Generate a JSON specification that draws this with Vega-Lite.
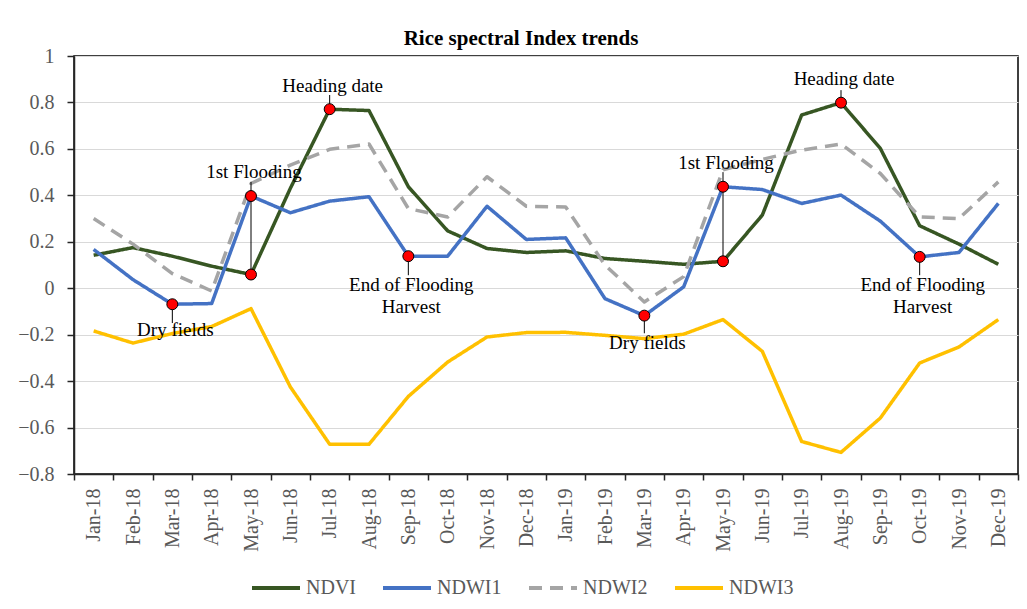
{
  "$schema": "https://vega.github.io/schema/vega-lite/v6.json",
  "width": 944,
  "height": 418,
  "autosize": {"type": "none"},
  "padding": {"left": 74, "top": 56, "right": 9, "bottom": 135},
  "background": "white",
  "title": {
    "text": "Rice spectral Index trends",
    "font": "Liberation Serif",
    "fontSize": 21,
    "fontWeight": "bold",
    "color": "black",
    "anchor": "middle",
    "frame": "group",
    "baseline": "alphabetic",
    "offset": -20,
    "dx": -25
  },
  "config": {
    "view": {"stroke": "black", "strokeWidth": 1.5},
    "font": "Liberation Serif"
  },
  "datasets": {
    "series": [
      {"month": "Jan-18", "series": "NDVI", "value": 0.142},
      {"month": "Feb-18", "series": "NDVI", "value": 0.175},
      {"month": "Mar-18", "series": "NDVI", "value": 0.138},
      {"month": "Apr-18", "series": "NDVI", "value": 0.095},
      {"month": "May-18", "series": "NDVI", "value": 0.059},
      {"month": "Jun-18", "series": "NDVI", "value": 0.43},
      {"month": "Jul-18", "series": "NDVI", "value": 0.771},
      {"month": "Aug-18", "series": "NDVI", "value": 0.765},
      {"month": "Sep-18", "series": "NDVI", "value": 0.437},
      {"month": "Oct-18", "series": "NDVI", "value": 0.247},
      {"month": "Nov-18", "series": "NDVI", "value": 0.171},
      {"month": "Dec-18", "series": "NDVI", "value": 0.154},
      {"month": "Jan-19", "series": "NDVI", "value": 0.161},
      {"month": "Feb-19", "series": "NDVI", "value": 0.128},
      {"month": "Mar-19", "series": "NDVI", "value": 0.116},
      {"month": "Apr-19", "series": "NDVI", "value": 0.103},
      {"month": "May-19", "series": "NDVI", "value": 0.116},
      {"month": "Jun-19", "series": "NDVI", "value": 0.315},
      {"month": "Jul-19", "series": "NDVI", "value": 0.746},
      {"month": "Aug-19", "series": "NDVI", "value": 0.799},
      {"month": "Sep-19", "series": "NDVI", "value": 0.602},
      {"month": "Oct-19", "series": "NDVI", "value": 0.269},
      {"month": "Nov-19", "series": "NDVI", "value": 0.19},
      {"month": "Dec-19", "series": "NDVI", "value": 0.103},

      {"month": "Jan-18", "series": "NDWI1", "value": 0.167},
      {"month": "Feb-18", "series": "NDWI1", "value": 0.037},
      {"month": "Mar-18", "series": "NDWI1", "value": -0.069},
      {"month": "Apr-18", "series": "NDWI1", "value": -0.066},
      {"month": "May-18", "series": "NDWI1", "value": 0.397},
      {"month": "Jun-18", "series": "NDWI1", "value": 0.325},
      {"month": "Jul-18", "series": "NDWI1", "value": 0.375},
      {"month": "Aug-18", "series": "NDWI1", "value": 0.394},
      {"month": "Sep-18", "series": "NDWI1", "value": 0.138},
      {"month": "Oct-18", "series": "NDWI1", "value": 0.138},
      {"month": "Nov-18", "series": "NDWI1", "value": 0.353},
      {"month": "Dec-18", "series": "NDWI1", "value": 0.21},
      {"month": "Jan-19", "series": "NDWI1", "value": 0.217},
      {"month": "Feb-19", "series": "NDWI1", "value": -0.045},
      {"month": "Mar-19", "series": "NDWI1", "value": -0.118},
      {"month": "Apr-19", "series": "NDWI1", "value": 0.006},
      {"month": "May-19", "series": "NDWI1", "value": 0.437},
      {"month": "Jun-19", "series": "NDWI1", "value": 0.425},
      {"month": "Jul-19", "series": "NDWI1", "value": 0.365},
      {"month": "Aug-19", "series": "NDWI1", "value": 0.401},
      {"month": "Sep-19", "series": "NDWI1", "value": 0.289},
      {"month": "Oct-19", "series": "NDWI1", "value": 0.135},
      {"month": "Nov-19", "series": "NDWI1", "value": 0.154},
      {"month": "Dec-19", "series": "NDWI1", "value": 0.365},

      {"month": "Jan-18", "series": "NDWI2", "value": 0.3},
      {"month": "Feb-18", "series": "NDWI2", "value": 0.19},
      {"month": "Mar-18", "series": "NDWI2", "value": 0.063},
      {"month": "Apr-18", "series": "NDWI2", "value": -0.012},
      {"month": "May-18", "series": "NDWI2", "value": 0.451},
      {"month": "Jun-18", "series": "NDWI2", "value": 0.53},
      {"month": "Jul-18", "series": "NDWI2", "value": 0.598},
      {"month": "Aug-18", "series": "NDWI2", "value": 0.621},
      {"month": "Sep-18", "series": "NDWI2", "value": 0.343},
      {"month": "Oct-18", "series": "NDWI2", "value": 0.307},
      {"month": "Nov-18", "series": "NDWI2", "value": 0.48},
      {"month": "Dec-18", "series": "NDWI2", "value": 0.353},
      {"month": "Jan-19", "series": "NDWI2", "value": 0.35},
      {"month": "Feb-19", "series": "NDWI2", "value": 0.1},
      {"month": "Mar-19", "series": "NDWI2", "value": -0.059},
      {"month": "Apr-19", "series": "NDWI2", "value": 0.05},
      {"month": "May-19", "series": "NDWI2", "value": 0.51},
      {"month": "Jun-19", "series": "NDWI2", "value": 0.555},
      {"month": "Jul-19", "series": "NDWI2", "value": 0.595},
      {"month": "Aug-19", "series": "NDWI2", "value": 0.621},
      {"month": "Sep-19", "series": "NDWI2", "value": 0.494},
      {"month": "Oct-19", "series": "NDWI2", "value": 0.307},
      {"month": "Nov-19", "series": "NDWI2", "value": 0.3},
      {"month": "Dec-19", "series": "NDWI2", "value": 0.458},

      {"month": "Jan-18", "series": "NDWI3", "value": -0.184},
      {"month": "Feb-18", "series": "NDWI3", "value": -0.236},
      {"month": "Mar-18", "series": "NDWI3", "value": -0.195},
      {"month": "Apr-18", "series": "NDWI3", "value": -0.165},
      {"month": "May-18", "series": "NDWI3", "value": -0.088},
      {"month": "Jun-18", "series": "NDWI3", "value": -0.425},
      {"month": "Jul-18", "series": "NDWI3", "value": -0.672},
      {"month": "Aug-18", "series": "NDWI3", "value": -0.672},
      {"month": "Sep-18", "series": "NDWI3", "value": -0.466},
      {"month": "Oct-18", "series": "NDWI3", "value": -0.318},
      {"month": "Nov-18", "series": "NDWI3", "value": -0.21},
      {"month": "Dec-18", "series": "NDWI3", "value": -0.191},
      {"month": "Jan-19", "series": "NDWI3", "value": -0.19},
      {"month": "Feb-19", "series": "NDWI3", "value": -0.203},
      {"month": "Mar-19", "series": "NDWI3", "value": -0.217},
      {"month": "Apr-19", "series": "NDWI3", "value": -0.198},
      {"month": "May-19", "series": "NDWI3", "value": -0.135},
      {"month": "Jun-19", "series": "NDWI3", "value": -0.272},
      {"month": "Jul-19", "series": "NDWI3", "value": -0.66},
      {"month": "Aug-19", "series": "NDWI3", "value": -0.707},
      {"month": "Sep-19", "series": "NDWI3", "value": -0.559},
      {"month": "Oct-19", "series": "NDWI3", "value": -0.322},
      {"month": "Nov-19", "series": "NDWI3", "value": -0.253},
      {"month": "Dec-19", "series": "NDWI3", "value": -0.135}
    ],
    "markers": [
      {"month": "Mar-18", "value": -0.069},
      {"month": "May-18", "value": 0.397},
      {"month": "May-18", "value": 0.059},
      {"month": "Jul-18", "value": 0.771},
      {"month": "Sep-18", "value": 0.138},
      {"month": "Mar-19", "value": -0.118},
      {"month": "May-19", "value": 0.437},
      {"month": "May-19", "value": 0.116},
      {"month": "Aug-19", "value": 0.799},
      {"month": "Oct-19", "value": 0.135}
    ],
    "connectors": [
      {"month": "Mar-18", "from": -0.069, "to": -0.15},
      {"month": "May-18", "from": 0.458, "to": 0.059},
      {"month": "Jul-18", "from": 0.832, "to": 0.771},
      {"month": "Sep-18", "from": 0.138, "to": 0.056},
      {"month": "Mar-19", "from": -0.118, "to": -0.194},
      {"month": "May-19", "from": 0.5, "to": 0.116},
      {"month": "Aug-19", "from": 0.853, "to": 0.799},
      {"month": "Oct-19", "from": 0.135, "to": 0.056}
    ],
    "labels": [
      {"month": "Mar-18", "value": -0.181, "text": "Dry fields"},
      {"month": "May-18", "value": 0.5, "text": "1st Flooding"},
      {"month": "Jul-18", "value": 0.872, "text": "Heading date"},
      {"month": "Sep-18", "value": 0.016, "text": "End of Flooding"},
      {"month": "Sep-18", "value": -0.08, "text": "Harvest"},
      {"month": "Mar-19", "value": -0.236, "text": "Dry fields"},
      {"month": "May-19", "value": 0.54, "text": "1st Flooding"},
      {"month": "Aug-19", "value": 0.901, "text": "Heading date"},
      {"month": "Oct-19", "value": 0.016, "text": "End of Flooding"},
      {"month": "Oct-19", "value": -0.08, "text": "Harvest"}
    ]
  },
  "layer": [
    {
      "data": {"name": "series"},
      "mark": {"type": "line", "strokeWidth": 3.5, "strokeCap": "butt", "strokeJoin": "round"},
      "encoding": {
        "x": {
          "field": "month",
          "type": "ordinal",
          "scale": {
            "type": "band",
            "paddingInner": 0,
            "paddingOuter": 0,
            "domain": ["Jan-18","Feb-18","Mar-18","Apr-18","May-18","Jun-18","Jul-18","Aug-18","Sep-18","Oct-18","Nov-18","Dec-18","Jan-19","Feb-19","Mar-19","Apr-19","May-19","Jun-19","Jul-19","Aug-19","Sep-19","Oct-19","Nov-19","Dec-19"]
          },
          "axis": {
            "title": null,
            "labelAngle": 270,
            "labelFont": "Liberation Serif",
            "labelFontSize": 20,
            "labelColor": "#595959",
            "labelPadding": 8,
            "tickBand": "extent",
            "tickSize": 6,
            "tickColor": "#262626",
            "tickWidth": 1.5,
            "domainColor": "#262626",
            "domainWidth": 1.5,
            "grid": false
          }
        },
        "y": {
          "field": "value",
          "type": "quantitative",
          "scale": {"domain": [-0.8, 1], "nice": false, "zero": false},
          "axis": {
            "title": null,
            "values": [-0.8, -0.6, -0.4, -0.2, 0, 0.2, 0.4, 0.6, 0.8, 1],
            "format": "~g",
            "labelFont": "Liberation Serif",
            "labelFontSize": 20,
            "labelColor": "#595959",
            "labelPadding": 13,
            "tickSize": 7,
            "tickColor": "#262626",
            "tickWidth": 1.5,
            "domainColor": "#262626",
            "domainWidth": 1.5,
            "grid": true,
            "gridColor": "#D9D9D9",
            "gridWidth": 1
          }
        },
        "color": {
          "field": "series",
          "type": "nominal",
          "scale": {
            "domain": ["NDVI", "NDWI1", "NDWI2", "NDWI3"],
            "range": ["#375623", "#4472C4", "#A5A5A5", "#FFC000"]
          },
          "legend": {
            "title": null,
            "orient": "none",
            "legendX": 176,
            "legendY": 506,
            "direction": "horizontal",
            "symbolType": "stroke",
            "symbolSize": 2304,
            "symbolStrokeWidth": 4,
            "labelFont": "Liberation Serif",
            "labelFontSize": 20,
            "labelColor": "#595959",
            "labelOffset": 4,
            "columnPadding": 19
          }
        },
        "strokeDash": {
          "field": "series",
          "type": "nominal",
          "scale": {
            "domain": ["NDVI", "NDWI1", "NDWI2", "NDWI3"],
            "range": [[1, 0], [1, 0], [13, 8], [1, 0]]
          },
          "legend": {
            "title": null,
            "orient": "none",
            "legendX": 176,
            "legendY": 506,
            "direction": "horizontal",
            "symbolType": "stroke",
            "symbolSize": 2304,
            "symbolStrokeWidth": 4,
            "labelFont": "Liberation Serif",
            "labelFontSize": 20,
            "labelColor": "#595959",
            "labelOffset": 4,
            "columnPadding": 19
          }
        }
      }
    },
    {
      "data": {"name": "connectors"},
      "mark": {"type": "rule", "color": "black", "strokeWidth": 1},
      "encoding": {
        "x": {"field": "month", "type": "ordinal"},
        "y": {"field": "from", "type": "quantitative"},
        "y2": {"field": "to"}
      }
    },
    {
      "data": {"name": "markers"},
      "mark": {"type": "point", "filled": true, "fill": "#FF0000", "stroke": "black", "strokeWidth": 1, "size": 120, "opacity": 1},
      "encoding": {
        "x": {"field": "month", "type": "ordinal"},
        "y": {"field": "value", "type": "quantitative"}
      }
    },
    {
      "data": {"name": "labels"},
      "mark": {"type": "text", "font": "Liberation Serif", "fontSize": 19, "color": "black", "align": "center", "baseline": "middle", "dx": 3},
      "encoding": {
        "x": {"field": "month", "type": "ordinal"},
        "y": {"field": "value", "type": "quantitative"},
        "text": {"field": "text"}
      }
    }
  ]
}
